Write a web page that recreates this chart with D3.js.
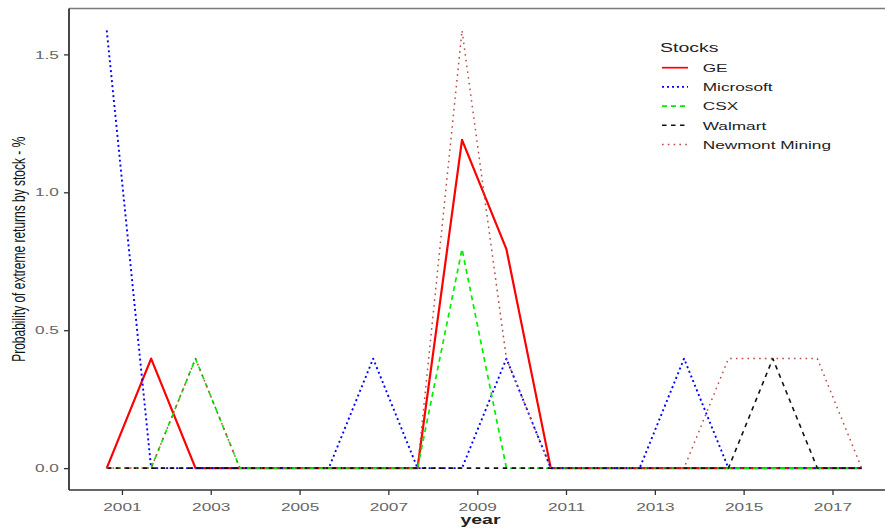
<!DOCTYPE html>
<html>
<head>
<meta charset="utf-8">
<script src="https://cdn.jsdelivr.net/npm/d3@7"></script>
<style>
  html, body { margin: 0; padding: 0; background: #fff; }
  svg { display: block; font-family: "Liberation Sans", Arial, sans-serif; }
</style>
</head>
<body>
<svg id="chart" width="885" height="529"></svg>
<script>
// Observation dates (one per year) and the share of trading days with extreme returns, in %
const obsDates = ["2000-08-29","2001-08-29","2002-08-29","2003-08-29","2004-08-29","2005-08-29",
                  "2006-08-29","2007-08-29","2008-08-29","2009-08-29","2010-08-29","2011-08-29",
                  "2012-08-29","2013-08-29","2014-08-29","2015-08-29","2016-08-29","2017-08-29"];
const stockNames = ["GE", "Microsoft", "CSX", "Walmart", "Newmont Mining"];
const geValues        = [0, 0.397, 0, 0, 0, 0, 0, 0, 1.190, 0.794, 0, 0, 0, 0, 0, 0, 0, 0];
const microsoftValues = [1.587, 0, 0, 0, 0, 0, 0.397, 0, 0, 0.397, 0, 0, 0, 0.397, 0, 0, 0, 0];
const csxValues       = [0, 0, 0.397, 0, 0, 0, 0, 0, 0.794, 0, 0, 0, 0, 0, 0, 0, 0, 0];
const walmartValues   = [0, 0, 0, 0, 0, 0, 0, 0, 0, 0, 0, 0, 0, 0, 0, 0.397, 0, 0];
const newmontValues   = [0, 0, 0.397, 0, 0, 0, 0, 0, 1.587, 0.397, 0, 0, 0, 0, 0.397, 0.397, 0.397, 0];
const xTickYears = [2001, 2003, 2005, 2007, 2009, 2011, 2013, 2015, 2017];
const yTicks = [0, 0.5, 1.0, 1.5];

const seriesValues = [geValues, microsoftValues, csxValues, walmartValues, newmontValues];
const lineStyles = [
  { color: "#ff0000", width: 2.2, dash: null },
  { color: "#0000ff", width: 1.9, dash: "2,3" },
  { color: "#00ee00", width: 1.7, dash: "5,4" },
  { color: "#111111", width: 1.6, dash: "4.5,4.5" },
  { color: "#b84a45", width: 1.5, dash: "1.6,4.2" }
];

const parse = d3.timeParse("%Y-%m-%d");
const dates = obsDates.map(parse);
const series = stockNames.map((name, i) => ({
  name,
  style: lineStyles[i],
  points: dates.map((d, j) => ({ date: d, value: seriesValues[i][j] }))
}));

const svg = d3.select("#chart");
const panel = { left: 69, top: 8.5, bottom: 490 };
const textStretch = 1.5;

// Scales with a 5% margin around the data on both axes
const xExtent = d3.extent(dates);
const xPad = (xExtent[1] - xExtent[0]) * 0.05;
const pxPerYear = 44.41;
const xDomain = [new Date(+xExtent[0] - xPad), new Date(+xExtent[1] + xPad)];
const spanYears = (xDomain[1] - xDomain[0]) / (365.25 * 24 * 3600 * 1000);
const x = d3.scaleTime().domain(xDomain).range([panel.left, panel.left + spanYears * pxPerYear]);

const yMax = d3.max(seriesValues.flat());
const yPad = yMax * 0.05;
const y = d3.scaleLinear().domain([-yPad, yMax + yPad]).range([panel.bottom, panel.top]);

// Panel top border
svg.append("line")
  .attr("x1", panel.left).attr("x2", 885)
  .attr("y1", panel.top).attr("y2", panel.top)
  .attr("stroke", "#7a7a7a").attr("stroke-width", 1.4);

// Lines
const line = d3.line().x(d => x(d.date)).y(d => y(d.value));
svg.append("g").selectAll("path")
  .data(series)
  .join("path")
  .attr("d", d => line(d.points))
  .attr("fill", "none")
  .attr("stroke", d => d.style.color)
  .attr("stroke-width", d => d.style.width)
  .attr("stroke-dasharray", d => d.style.dash)
  .attr("stroke-linejoin", "round");

// X axis
const xAxis = d3.axisBottom(x)
  .tickValues(xTickYears.map(yr => new Date(yr, 0, 1)))
  .tickFormat(d3.timeFormat("%Y"))
  .tickSizeInner(5).tickSizeOuter(0).tickPadding(8);
const gx = svg.append("g").attr("transform", `translate(0,${panel.bottom})`).call(xAxis);
gx.select(".domain").attr("d", `M${panel.left},0H885`).attr("stroke", "#333").attr("stroke-width", 1.6);
gx.selectAll(".tick line").attr("stroke", "#333").attr("stroke-width", 1.3);
gx.selectAll(".tick text")
  .attr("font-size", 11.5).attr("fill", "#666")
  .attr("font-family", "Liberation Sans, Arial, sans-serif")
  .attr("transform", `scale(${textStretch},1)`);

// Y axis
const yAxis = d3.axisLeft(y)
  .tickValues(yTicks)
  .tickFormat(d3.format(".1f"))
  .tickSizeInner(5).tickSizeOuter(0).tickPadding(1.7);
const gy = svg.append("g").attr("transform", `translate(${panel.left},0)`).call(yAxis);
gy.select(".domain").attr("d", `M0,${panel.top}V${panel.bottom}`).attr("stroke", "#333").attr("stroke-width", 1.8);
gy.selectAll(".tick line").attr("stroke", "#333").attr("stroke-width", 1.3);
gy.selectAll(".tick text")
  .attr("font-size", 11.5).attr("fill", "#666")
  .attr("font-family", "Liberation Sans, Arial, sans-serif")
  .attr("transform", `scale(${textStretch},1)`);

// Axis titles
svg.append("text")
  .attr("transform", `translate(480.5,524) scale(${textStretch},1)`)
  .attr("text-anchor", "middle")
  .attr("font-size", 13).attr("font-weight", "bold").attr("fill", "#222")
  .text("year");

svg.append("text")
  .attr("transform", `translate(24.5,${(panel.top + panel.bottom) / 2}) rotate(-90) scale(1,${textStretch})`)
  .attr("text-anchor", "middle")
  .attr("font-size", 12).attr("fill", "#111")
  .text("Probability of extreme returns by stock - %");

// Legend
const legend = svg.append("g");
legend.append("text")
  .attr("transform", `translate(660,52) scale(${textStretch},1)`)
  .attr("font-size", 13).attr("fill", "#222")
  .text("Stocks");
const rowStep = 19.2;
const rows = legend.selectAll("g.row")
  .data(series)
  .join("g")
  .attr("class", "row")
  .attr("transform", (d, i) => `translate(0,${67.7 + i * rowStep})`);
rows.append("line")
  .attr("x1", 662).attr("x2", 688)
  .attr("stroke", d => d.style.color)
  .attr("stroke-width", d => Math.min(d.style.width, 1.7))
  .attr("stroke-dasharray", d => d.style.dash);
rows.append("text")
  .attr("transform", `translate(702.7,4.3) scale(${textStretch},1)`)
  .attr("font-size", 11.5).attr("fill", "#222")
  .text(d => d.name);
</script>
</body>
</html>
